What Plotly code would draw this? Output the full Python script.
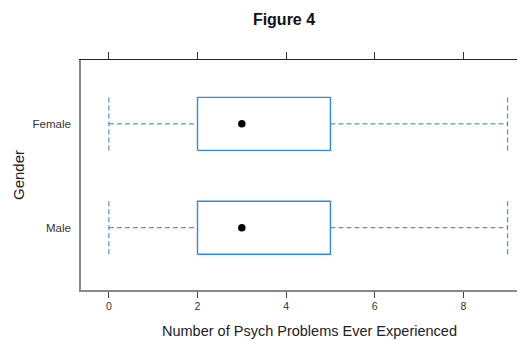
import plotly.graph_objects as go

groups = ["Male", "Female"]
ypos = [1, 2]
mins = [0, 0]
q1s = [2, 2]
medians = [3, 3]
q3s = [5, 5]
maxs = [9, 9]
xticks = [0, 2, 4, 6, 8]

BOX_COLOR = "#2e8be6"
WHISK_COLOR = "#1f80e6"
half = 0.255

# page body has an 8px margin: figure is sized/positioned to compensate
W, H = 517, 333
L, T, B = 73, 52, 51
PW = W - L
PH = H - T - B
PX_PER_UNIT = 44.3
XMIN = -0.63
XMAX = XMIN + PW / PX_PER_UNIT

fig = go.Figure()
for g, y, lo, a, m, b, hi in zip(groups, ypos, mins, q1s, medians, q3s, maxs):
    fig.add_trace(go.Scatter(x=[lo, a, None, b, hi], y=[y, y, None, y, y], mode="lines",
                             line=dict(color=WHISK_COLOR, width=1, dash="5px,3px"),
                             hoverinfo="skip", showlegend=False))
    fig.add_trace(go.Scatter(x=[lo, lo, None, hi, hi], y=[y - half, y + half, None, y - half, y + half],
                             mode="lines", line=dict(color=WHISK_COLOR, width=1, dash="5px,3px"),
                             hoverinfo="skip", showlegend=False))
    fig.add_trace(go.Scatter(x=[a, b, b, a, a], y=[y - half, y - half, y + half, y + half, y - half],
                             mode="lines", line=dict(color=BOX_COLOR, width=1.4),
                             name=g, showlegend=False))
    fig.add_trace(go.Scatter(x=[m], y=[y], mode="markers",
                             marker=dict(color="black", size=7.5), showlegend=False))

# invisible trace for top axis
fig.add_trace(go.Scatter(x=[0], y=[1], xaxis="x2", mode="markers",
                         marker=dict(opacity=0), hoverinfo="skip", showlegend=False))

fig.update_layout(
    width=W, height=H,
    margin=dict(l=L, r=0, t=T, b=B),
    paper_bgcolor="white", plot_bgcolor="white",
    font=dict(family="Liberation Sans, Arial, sans-serif", color="#222"),
    title=dict(text="<b>Figure 4</b>", x=(284 - 8) / W, xref="container", xanchor="center",
               y=1 - (19 - 8) / H, yref="container", yanchor="middle",
               font=dict(size=16, color="#111")),
    xaxis=dict(range=[XMIN, XMAX], tickvals=xticks, ticktext=[str(t) for t in xticks],
               showgrid=False, zeroline=False, showline=True, linecolor="#888", linewidth=1.5,
               ticks="outside", ticklen=6, tickcolor="#444", tickwidth=1,
               tickfont=dict(size=10.5, color="#333")),
    xaxis2=dict(range=[XMIN, XMAX], overlaying="x", side="top", tickvals=xticks,
                showticklabels=False, showgrid=False, zeroline=False, showline=True,
                linecolor="#222", linewidth=1.3, ticks="outside", ticklen=7,
                tickcolor="#333", tickwidth=1),
    yaxis=dict(range=[0.4, 2.615], tickvals=ypos, ticktext=groups,
               showgrid=False, zeroline=False, showline=True, linecolor="#888", linewidth=1.5,
               mirror=False, ticks="", ticklabelstandoff=6,
               tickfont=dict(size=11.5, color="#333")),
    annotations=[
        dict(text="Number of Psych Problems Ever Experienced", xref="paper", yref="paper",
             x=(309 - 81) / PW, y=(290 - 331) / PH, showarrow=False,
             font=dict(size=14.5, color="#222"), xanchor="center", yanchor="middle"),
        dict(text="Gender", xref="paper", yref="paper", x=(18 - 81) / PW, y=0.5,
             showarrow=False, textangle=-90, font=dict(size=15, color="#222"),
             xanchor="center", yanchor="middle"),
    ],
)

fig.write_html("out.html")
